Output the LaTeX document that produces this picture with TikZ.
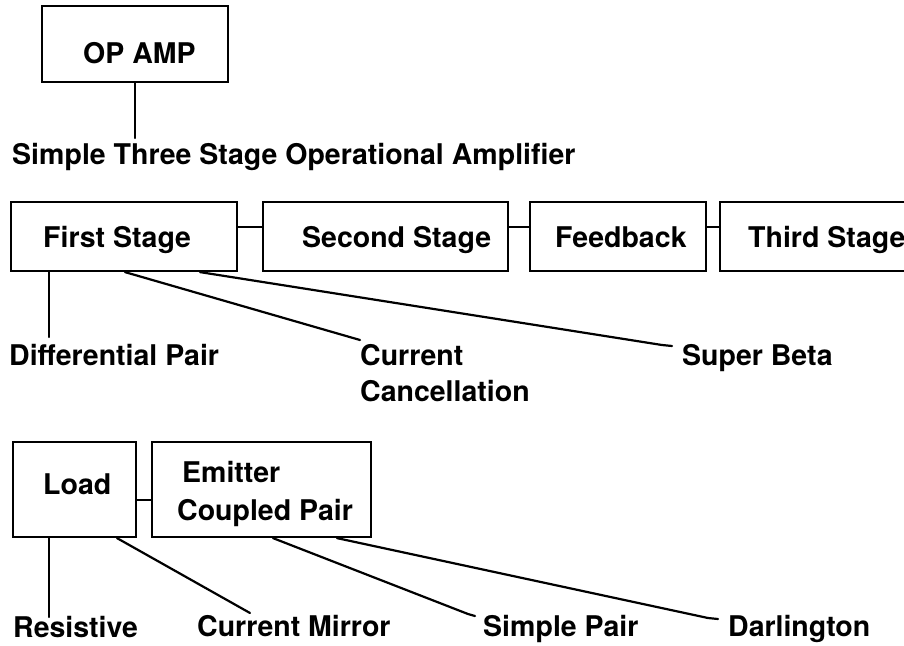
\documentclass[tikz,border=0pt]{standalone}
\usepackage{fontspec}
\setmainfont{TeX Gyre Heros}
\begin{document}
\begin{tikzpicture}[x=1pt,y=-1pt,
  box/.style={draw,line width=2.2pt,inner sep=0pt},
  txt/.style={anchor=base west,inner sep=0pt,font=\fontsize{28.5}{34}\selectfont\bfseries},
  link/.style={line width=2.2pt,line cap=round,line join=round}]
\fill[white] (0,0) rectangle (904,645);
\useasboundingbox (0,0) rectangle (904,645);
\clip (0,0) rectangle (904,645);
% boxes
\node[box,minimum width=186pt,minimum height=76pt] (opamp) at (135,44) {};
\node[box,minimum width=226pt,minimum height=69pt] (first) at (124,236.5) {};
\node[box,minimum width=245pt,minimum height=69pt] (second) at (385.5,236.5) {};
\node[box,minimum width=176pt,minimum height=69pt] (feedback) at (618,236.5) {};
\node[box,minimum width=204pt,minimum height=69pt] (third) at (822,236.5) {};
\node[box,minimum width=123pt,minimum height=95pt] (load) at (74.5,489.5) {};
\node[box,minimum width=219pt,minimum height=95pt] (emitter) at (261.5,489.5) {};
% texts
\node[txt] (topamp) at (83,63) {OP AMP};
\node[txt] (title) at (12,164) {Simple Three Stage Operational Amplifier};
\node[txt] (tfirst) at (43,247) {First Stage};
\node[txt] (tsecond) at (302,247) {Second Stage};
\node[txt] (tfeed) at (555,247) {Feedback};
\node[txt] (tthird) at (748,247) {Third Stage};
\node[txt] (diff) at (9,365) {Differential Pair};
\node[txt] (curr) at (360,365) {Current};
\node[txt] (canc) at (360,401) {Cancellation};
\node[txt] (sbeta) at (682,365) {Super Beta};
\node[txt] (tload) at (43,494) {Load};
\node[txt] (temit) at (182,482) {Emitter};
\node[txt] (tcoup) at (177,520) {Coupled Pair};
\node[txt] (resist) at (13,637) {Resistive};
\node[txt] (mirror) at (197,636) {Current Mirror};
\node[txt] (spair) at (483,636) {Simple Pair};
\node[txt] (darl) at (728,636) {Darlington};
% connector helper coordinates
\coordinate (tl) at (135,138);
\coordinate (r2) at (0,227);
\coordinate (r4) at (0,500);
\coordinate (f1) at (49,0);
\coordinate (f2) at (125,0);
\coordinate (f3) at (200,0);
\coordinate (e1) at (49,337);
\coordinate (e2) at (360,340);
\coordinate (e3a) at (662,345);
\coordinate (e3) at (672,346);
\coordinate (l1) at (49,0);
\coordinate (l2) at (117,0);
\coordinate (m1) at (273,0);
\coordinate (m2) at (337,0);
\coordinate (g1) at (49,617);
\coordinate (g2) at (250,613);
\coordinate (g3a) at (468,614);
\coordinate (g3) at (475,616);
\coordinate (g4a) at (708,618);
\coordinate (g4) at (718,619);
% connectors
\draw[link] (opamp.south) -- (tl);
\draw[link] (first.east |- r2) -- (second.west |- r2);
\draw[link] (second.east |- r2) -- (feedback.west |- r2);
\draw[link] (feedback.east |- r2) -- (third.west |- r2);
\draw[link] (first.south -| f1) -- (e1);
\draw[link] (first.south -| f2) -- (e2);
\draw[link] (first.south -| f3) -- (e3a) -- (e3);
\draw[link] (load.east |- r4) -- (emitter.west |- r4);
\draw[link] (load.south -| l1) -- (g1);
\draw[link] (load.south -| l2) -- (g2);
\draw[link] (emitter.south -| m1) -- (g3a) -- (g3);
\draw[link] (emitter.south -| m2) -- (g4a) -- (g4);
\end{tikzpicture}
\end{document}
